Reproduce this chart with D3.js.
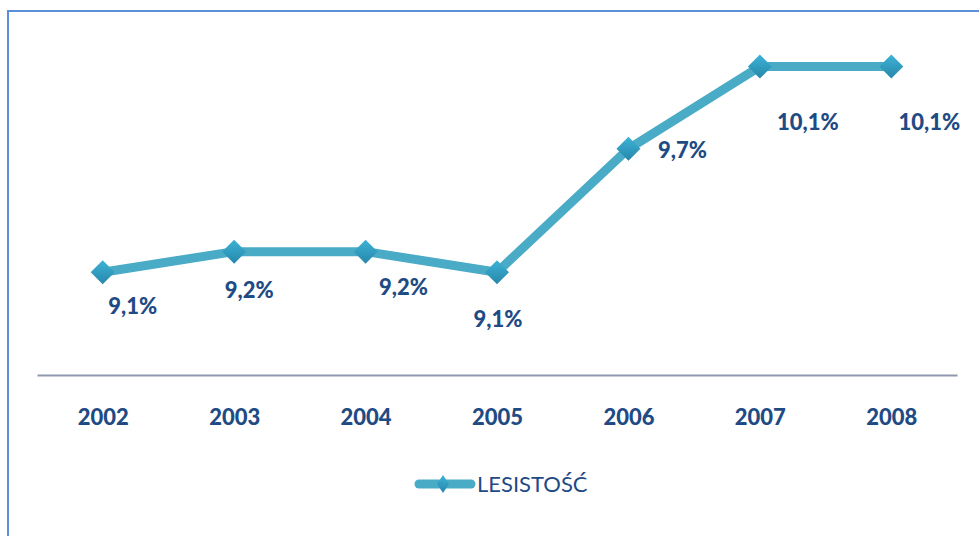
<!DOCTYPE html>
<html>
<head>
<meta charset="utf-8">
<script src="https://cdn.jsdelivr.net/npm/d3@7"></script>
<style>
  html, body { margin: 0; padding: 0; background: #fff; }
  svg { display: block; }
</style>
</head>
<body>
<svg id="chart" width="979" height="536"></svg>
<script>
// ---- data ----
const years = ["2002", "2003", "2004", "2005", "2006", "2007", "2008"];
const values = [9.1, 9.2, 9.2, 9.1, 9.7, 10.1, 10.1];
const valueLabels = ["9,1%", "9,2%", "9,2%", "9,1%", "9,7%", "10,1%", "10,1%"];
const seriesName = "LESISTOŚĆ";
// manual data-label offsets (layout, as in the source chart)
const labelDx = [30, 15, 38, 1, 54, 48, 38];
const labelDy = [42, 46, 43, 55, 9, 63, 63];

const svg = d3.select("#chart");
const textColor = "#1f4b85";
const lineColor = "#4aabc6";
const fontFam = "Lato, 'Open Sans', sans-serif";

// border
svg.append("rect")
  .attr("x", 8).attr("y", 11)
  .attr("width", 1000).attr("height", 600)
  .attr("fill", "none")
  .attr("stroke", "#5b8fd8")
  .attr("stroke-width", 2);

const defs = svg.append("defs");
const grad = defs.append("linearGradient")
  .attr("id", "mk").attr("x1", 0).attr("y1", 0).attr("x2", 0).attr("y2", 1);
grad.append("stop").attr("offset", "0%").attr("stop-color", "#3cb3d6");
grad.append("stop").attr("offset", "100%").attr("stop-color", "#2787aa");

const x = d3.scalePoint().domain(years).range([37, 957]).padding(0.5);
const y = d3.scaleLinear().domain([8.6, 10.2]).range([375, 46]);

// x axis
const xAxis = d3.axisBottom(x).tickSize(0).tickPadding(0);
const gx = svg.append("g").attr("transform", "translate(0,375)").call(xAxis);
gx.select(".domain").attr("stroke", "#8e97ad").attr("stroke-width", 2);
gx.selectAll("text")
  .attr("dy", null)
  .attr("y", 50)
  .attr("fill", textColor)
  .attr("font-family", fontFam)
  .attr("font-weight", 900)
  .attr("font-size", 22);

const data = years.map((yr, i) => ({ yr, v: values[i], lab: valueLabels[i], dx: labelDx[i], dy: labelDy[i] }));

// line
const line = d3.line().x(d => x(d.yr)).y(d => y(d.v));
svg.append("path")
  .datum(data)
  .attr("d", line)
  .attr("fill", "none")
  .attr("stroke", lineColor)
  .attr("stroke-width", 9)
  .attr("stroke-linejoin", "round");

// markers
const diamond = (cx, cy, rx, ry) => `M${cx},${cy - ry}L${cx + rx},${cy}L${cx},${cy + ry}L${cx - rx},${cy}Z`;
svg.append("g").selectAll("path")
  .data(data)
  .join("path")
  .attr("d", d => diamond(x(d.yr), y(d.v), 12, 12))
  .attr("fill", "url(#mk)");

// data labels
svg.append("g").selectAll("text")
  .data(data)
  .join("text")
  .attr("x", d => x(d.yr) + d.dx)
  .attr("y", d => y(d.v) + d.dy)
  .attr("text-anchor", "middle")
  .attr("fill", textColor)
  .attr("font-family", fontFam)
  .attr("font-weight", 900)
  .attr("font-size", 22)
  .text(d => d.lab);

// legend
const lg = svg.append("g").attr("transform", "translate(415,484)");
lg.append("line")
  .attr("x1", 4).attr("x2", 56).attr("y1", 0).attr("y2", 0)
  .attr("stroke", lineColor).attr("stroke-width", 9).attr("stroke-linecap", "round");
lg.append("path").attr("d", diamond(28, 0, 6, 9)).attr("fill", "url(#mk)");
lg.append("text")
  .attr("x", 62).attr("y", 8)
  .attr("fill", textColor)
  .attr("font-family", fontFam)
  .attr("font-size", 22)
  .text(seriesName);
</script>
</body>
</html>
